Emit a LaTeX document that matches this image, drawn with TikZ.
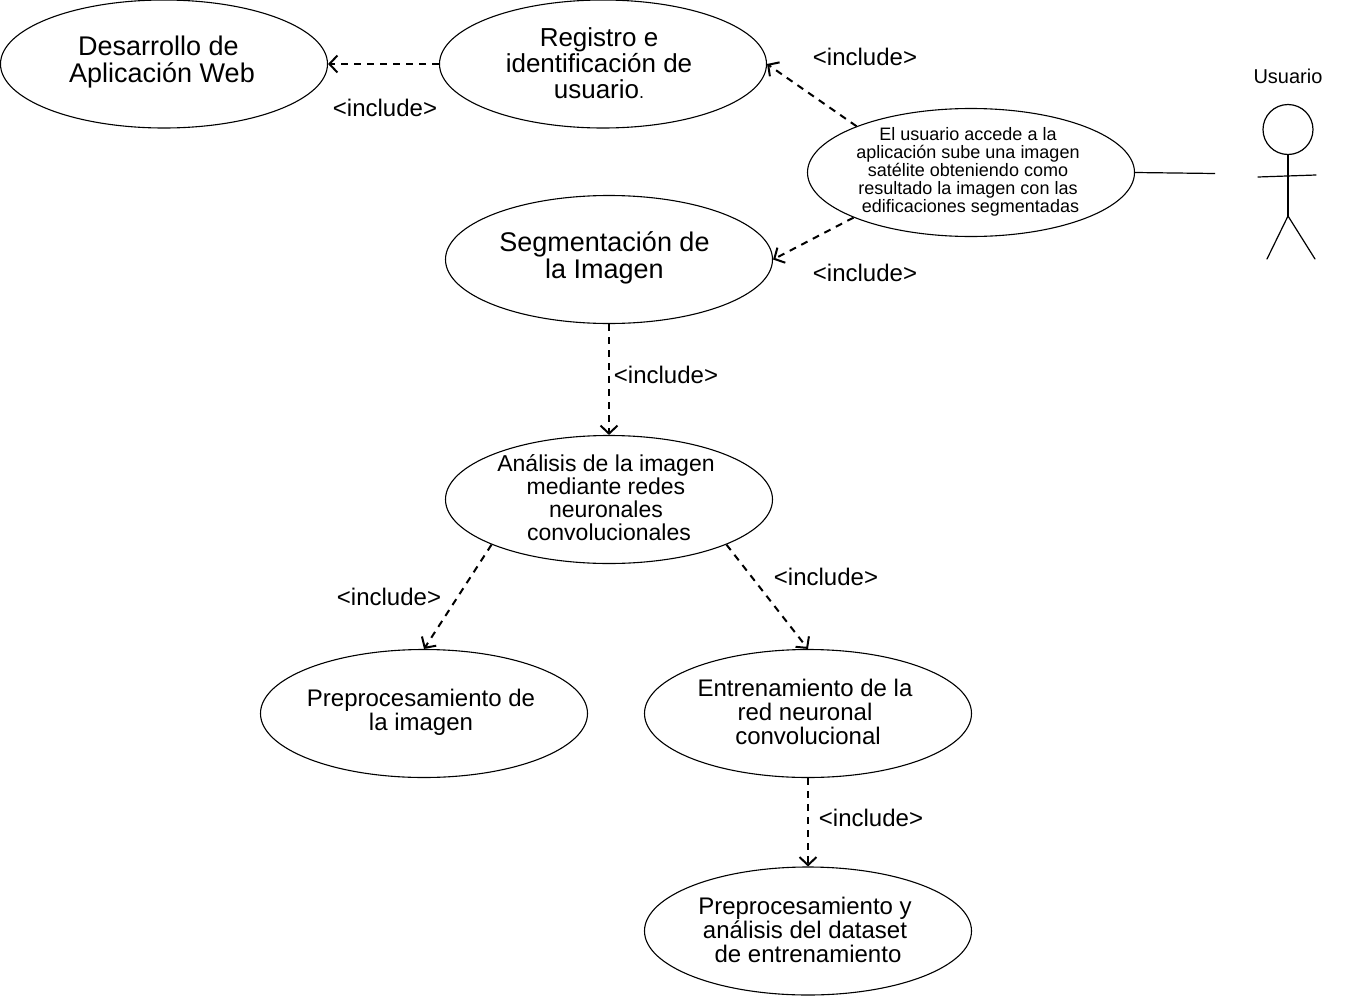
\documentclass[tikz,border=0pt]{standalone}
\usepackage{fontspec}
\setmainfont{Liberation Sans}
\usetikzlibrary{arrows.meta,shapes.geometric}
\tikzset{
  uc/.style={draw=black,fill=white,ellipse,line width=1.1pt,minimum width=327pt,minimum height=128pt,inner sep=0pt},
  ttext/.style={align=center,inner sep=0pt,text=black},
  incl/.style={inner sep=0pt,font=\fontsize{24}{24}\selectfont},
  dep/.style={line width=2pt,dash pattern=on 7pt off 6pt,-{Straight Barb[length=8pt,width=17pt,line width=2pt]}},
  stick/.style={line width=1.2pt,line cap=round}
}
\begin{document}
\begin{tikzpicture}[x=1pt,y=-1pt]
\useasboundingbox (0,0) rectangle (1345,996);
% use cases
\node[uc] (dev) at (164,64) {};
\node[uc] (reg) at (603,64) {};
\node[uc] (seg) at (609,259.5) {};
\node[uc] (main) at (971,172.5) {};
\node[uc] (ana) at (609,499.5) {};
\node[uc] (pre) at (424,713.5) {};
\node[uc] (ent) at (808,713.5) {};
\node[uc] (dat) at (808,931) {};
% texts
\node[ttext,font=\fontsize{27}{27}\selectfont] (tdev) at (162,62.5) {Desarrollo de\hspace*{7pt}\\Aplicación Web};
\node[ttext,font=\fontsize{26}{26}\selectfont] (treg) at (599,63.5) {Registro e\\identificación de\\usuario{\fontsize{18}{18}\selectfont.}};
\node[ttext,font=\fontsize{27}{27}\selectfont] (tseg) at (604.5,257.5) {Segmentación de\\la Imagen};
\node[ttext,font=\fontsize{18}{18}\selectfont] (tmain) at (968,171.5) {El usuario accede a la\\aplicación sube una imagen\\satélite obteniendo como\\resultado la imagen con las\\\hspace*{5pt}edificaciones segmentadas};
\node[ttext,font=\fontsize{23}{23}\selectfont] (tana) at (606,497.5) {Análisis de la imagen\\mediante redes\\neuronales\\\hspace*{6pt}convolucionales};
\node[ttext,font=\fontsize{24}{24}\selectfont] (tpre) at (421,712) {Preprocesamiento de\\la imagen};
\node[ttext,font=\fontsize{24}{24}\selectfont] (tent) at (805,712) {Entrenamiento de la\\red neuronal\\\hspace*{6pt}convolucional};
\node[ttext,font=\fontsize{24}{24}\selectfont] (tdat) at (805,930) {Preprocesamiento y\\análisis del dataset\\\hspace*{6pt}de entrenamiento};
% include labels
\node[incl] (l1) at (385,108) {<include>};
\node[incl] (l2) at (865,57) {<include>};
\node[incl] (l3) at (865,273) {<include>};
\node[incl] (l4) at (666,375) {<include>};
\node[incl] (l5) at (389,597) {<include>};
\node[incl] (l6) at (826,577) {<include>};
\node[incl] (l7) at (871,818) {<include>};
% dependencies
\draw[dep] (reg.west) -- (dev.east);
\draw[dep] (main.158.6) -- (reg.east);
\draw[dep] (main.201) -- (seg.east);
\draw[dep] (seg.south) -- (ana.north);
\draw[dep] (ana.201.5) -- (pre.north);
\draw[dep] (ana.-21.4) -- (ent.north);
\draw[dep] (ent.south) -- (dat.north);
% actor
\node[inner sep=0pt,font=\fontsize{20}{20}\selectfont] (actorname) at (1288,76) {Usuario};
\node[draw=black,circle,line width=1.2pt,minimum size=50pt,inner sep=0pt] (head) at (1288,129.5) {};
\coordinate (hip) at (1288,216);
\coordinate (armL) at (1258,177);
\coordinate (armR) at (1316,175);
\coordinate (footL) at (1267,259);
\coordinate (footR) at (1315,259);
\coordinate (assoc) at (1215,173.5);
\draw[stick] (head.south) -- (hip);
\draw[stick] (armL) -- (armR);
\draw[stick] (footL) -- (hip) -- (footR);
\draw[line width=1.2pt] (main.east) -- (assoc);
\end{tikzpicture}
\end{document}
